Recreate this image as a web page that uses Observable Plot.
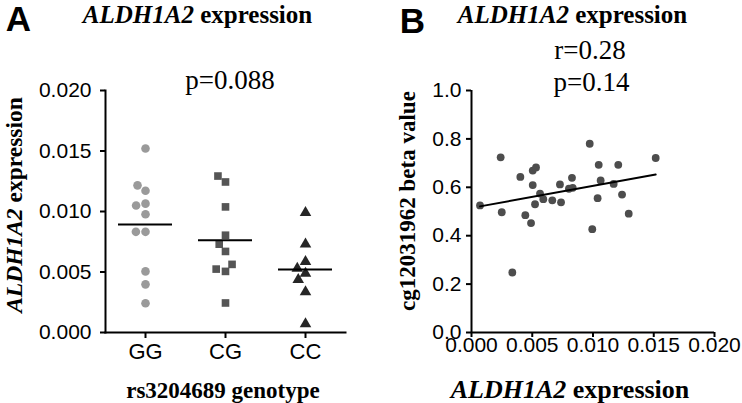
<!DOCTYPE html>
<html><head><meta charset="utf-8">
<script src="https://cdn.jsdelivr.net/npm/d3@7"></script>
<script src="https://cdn.jsdelivr.net/npm/@observablehq/plot@0.6"></script>
<style>
body{margin:0;background:#fff;}
#wrap{position:relative;width:742px;height:403px;overflow:hidden;background:#fff;}
.p{position:absolute;top:0;}
.t{position:absolute;white-space:nowrap;color:#000;transform:translate(-50%,-50%);line-height:1;}
.serif{font-family:"Liberation Serif","Times New Roman",serif;}
.b{font-weight:bold;}
.letter{font-family:"Liberation Sans",Arial,sans-serif;font-weight:bold;font-size:35px;}
.rot{transform:translate(-50%,-50%) rotate(-90deg);}
</style></head>
<body><div id="wrap"></div>
<script>
// ---- data ----
const genotypes = ["GG", "CG", "CC"];
const ggValues = [0.01521, 0.01172, 0.00977, 0.00832, 0.00505, 0.00398, 0.00242, 0.00832, 0.01216, 0.01065, 0.01049];
const cgValues = [0.01244, 0.01038, 0.00804, 0.00670, 0.00505, 0.00244, 0.01293, 0.00524, 0.00563, 0.00730];
const ccValues = [0.00991, 0.00730, 0.00489, 0.00335, 0.00071, 0.00585, 0.00437, 0.00530];
const yTicksA = [0, 0.005, 0.010, 0.015, 0.020];

const exprB = [0.0007, 0.0024, 0.00249, 0.00336, 0.00402, 0.00443, 0.0049, 0.00504, 0.00504, 0.00531, 0.00523, 0.00564, 0.00591, 0.00665, 0.00728, 0.00737, 0.00802, 0.00827, 0.00833, 0.00973, 0.00994, 0.01038, 0.01047, 0.01063, 0.0117, 0.01208, 0.01239, 0.01294, 0.01516];
const betaB = [0.525, 0.724, 0.497, 0.248, 0.643, 0.485, 0.452, 0.609, 0.669, 0.682, 0.530, 0.574, 0.551, 0.546, 0.612, 0.538, 0.594, 0.639, 0.598, 0.780, 0.427, 0.555, 0.693, 0.628, 0.614, 0.693, 0.570, 0.491, 0.721];
const xTicksB = [0, 0.005, 0.010, 0.015, 0.020];
const yTicksB = [0, 0.2, 0.4, 0.6, 0.8, 1.0];

const groupColors = ["#9a9a9a", "#555555", "#262626"];
const groupSymbols = ["circle", "square", "triangle"];

const rowsA = [
  ...ggValues.map(v => ({genotype: "GG", value: v})),
  ...cgValues.map(v => ({genotype: "CG", value: v})),
  ...ccValues.map(v => ({genotype: "CC", value: v}))
];
const rowsB = exprB.map((x, i) => ({expr: x, beta: betaB[i]}));

const wrap = document.getElementById("wrap");

// ---- Panel A ----
const plotA = Plot.plot({
  width: 371, height: 403,
  marginLeft: 104, marginRight: 25, marginTop: 90, marginBottom: 71,
  style: {fontFamily: "Liberation Sans, Arial, sans-serif", fontSize: "21px", background: "transparent"},
  fx: {domain: genotypes, padding: 0, label: null},
  y: {domain: [0, 0.02], label: null},
  color: {domain: genotypes, range: groupColors},
  symbol: {domain: genotypes, range: groupSymbols},
  marks: [
    Plot.frame({anchor: "left", facet: "super", strokeWidth: 2}),
    Plot.frame({anchor: "bottom", facet: "super", strokeWidth: 2}),
    Plot.axisY({ticks: yTicksA, tickFormat: d3.format(".3f"), tickSize: 5, tickPadding: 9, strokeWidth: 2, fontSize: 21, label: null}),
    Plot.axisFx({anchor: "bottom", tickSize: 6, tickPadding: 5, strokeWidth: 2, fontSize: 22, label: null}),
    Plot.dot(rowsA, Plot.dodgeX("middle", {y: "value", fx: "genotype", r: 4.3, padding: 3.4, symbol: "genotype", fill: "genotype", stroke: "none"})),
    Plot.tickY(rowsA, Plot.groupZ({y: "mean"}, {y: "value", fx: "genotype", insetLeft: 13, insetRight: 13, strokeWidth: 2, stroke: "#000"}))
  ]
});
const divA = document.createElement("div");
divA.className = "p"; divA.style.left = "0px";
divA.appendChild(plotA);
wrap.appendChild(divA);

// ---- Panel B ----
const plotB = Plot.plot({
  width: 371, height: 403,
  marginLeft: 100, marginRight: 28, marginTop: 90, marginBottom: 71,
  style: {fontFamily: "Liberation Sans, Arial, sans-serif", fontSize: "21px", background: "transparent"},
  x: {domain: [0, 0.02], label: null},
  y: {domain: [0, 1], label: null},
  marks: [
    Plot.ruleX([0], {strokeWidth: 2}),
    Plot.ruleY([0], {strokeWidth: 2}),
    Plot.axisY({ticks: yTicksB, tickFormat: d3.format(".1f"), tickSize: 5, tickPadding: 5, strokeWidth: 2, fontSize: 21, label: null}),
    Plot.axisX({ticks: xTicksB, tickFormat: d3.format(".3f"), tickSize: 5, tickPadding: 0, strokeWidth: 2, fontSize: 21, label: null}),
    Plot.dot(rowsB, {x: "expr", y: "beta", r: 3.9, fill: "#4d4d4d", stroke: "none"}),
    Plot.linearRegressionY(rowsB, {x: "expr", y: "beta", ci: 0, stroke: "#000", strokeWidth: 2})
  ]
});
const divB = document.createElement("div");
divB.className = "p"; divB.style.left = "371px";
divB.appendChild(plotB);
wrap.appendChild(divB);

// ---- text ----
function addText(html, x, y, cls, size) {
  const d = document.createElement("div");
  d.className = "t " + cls;
  d.style.left = x + "px"; d.style.top = y + "px";
  if (size) d.style.fontSize = size + "px";
  d.innerHTML = html;
  wrap.appendChild(d);
}
addText("A", 18.5, 18, "letter");
addText("B", 412.5, 20, "letter");
addText("<i>ALDH1A2</i> expression", 197.5, 14, "serif b", 25);
addText("<i>ALDH1A2</i> expression", 572.5, 14, "serif b", 25);
addText("p=0.088", 230, 80, "serif", 27);
addText("r=0.28", 590, 50, "serif", 27);
addText("p=0.14", 591.5, 82, "serif", 27);
addText("<i>ALDH1A2</i> expression", 15, 205, "serif b rot", 23.5);
addText("cg12031962 beta value", 407, 201, "serif b rot", 23);
addText("rs3204689 genotype", 223, 390, "serif b", 23);
addText("<i>ALDH1A2</i> expression", 570, 390, "serif b", 26);
</script>
</body></html>
